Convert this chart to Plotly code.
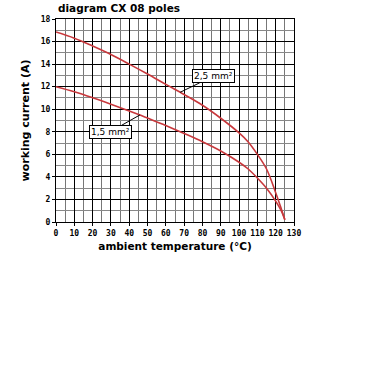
import plotly.graph_objects as go

temps = [0, 10, 20, 30, 40, 50, 60, 70, 80, 90, 100, 105, 110, 115, 120, 123, 125]
current_25 = [16.85, 16.3, 15.6, 14.85, 14.0, 13.12, 12.2, 11.3, 10.35, 9.2, 7.9, 7.1, 6.0, 4.7, 2.6, 1.2, 0.2]
current_15 = [12.0, 11.55, 11.02, 10.45, 9.85, 9.23, 8.55, 7.85, 7.12, 6.3, 5.3, 4.7, 3.9, 3.0, 1.85, 1.0, 0.2]
x_ticks = list(range(0, 131, 10))
y_ticks = list(range(0, 19, 2))
labels = ["2,5 mm²", "1,5 mm²"]
label_pts = [(67.8, 11.5), (45.9, 9.5)]

red = "#c8383c"
tickfont = dict(family="DejaVu Sans Mono", size=8, color="black", weight="bold")

fig = go.Figure()
fig.add_trace(go.Scatter(x=temps, y=current_25, mode="lines", line=dict(color=red, width=1.6, shape="spline"), showlegend=False))
fig.add_trace(go.Scatter(x=temps, y=current_15, mode="lines", line=dict(color=red, width=1.6, shape="spline"), showlegend=False))

offsets = [(33, -16), (-30, 17)]
for txt, (px, py), (ax, ay) in zip(labels, label_pts, offsets):
    fig.add_annotation(x=px, y=py, text=txt, showarrow=True, arrowhead=0, arrowwidth=1,
                       arrowcolor="black", ax=ax, ay=ay, bgcolor="white", bordercolor="black",
                       borderwidth=1, borderpad=1,
                       font=dict(family="DejaVu Sans", size=9, color="black"))

fig.update_layout(
    width=380, height=380,
    margin=dict(l=56, r=86, t=19, b=158),
    paper_bgcolor="white", plot_bgcolor="white",
    title=dict(text="diagram CX 08 poles", x=58/380, xanchor="left", y=1 - 8/380, yanchor="middle",
               font=dict(family="DejaVu Sans", size=10.5, color="black", weight="bold")),
    xaxis=dict(range=[0, 130], tickvals=x_ticks, ticktext=[str(v) for v in x_ticks],
               showgrid=True, gridcolor="black", gridwidth=1,
               minor=dict(dtick=5, showgrid=True, gridcolor="#777", gridwidth=1, ticks=""),
               showline=True, linecolor="black", linewidth=1, mirror=True,
               ticks="outside", ticklen=3, tickcolor="black", tickfont=tickfont, zeroline=False,
               title=dict(text="ambient temperature (°C)", standoff=6,
                          font=dict(family="DejaVu Sans", size=10.5, color="black", weight="bold"))),
    yaxis=dict(range=[0, 18], tickvals=y_ticks, ticktext=[str(v) for v in y_ticks],
               showgrid=True, gridcolor="black", gridwidth=1,
               minor=dict(dtick=1, showgrid=True, gridcolor="#888", gridwidth=1, ticks=""),
               showline=True, linecolor="black", linewidth=1, mirror=True,
               ticks="outside", ticklen=3, tickcolor="black", tickfont=tickfont, zeroline=False,
               title=dict(text="working current (A)", standoff=8,
                          font=dict(family="DejaVu Sans", size=11, color="black", weight="bold"))),
)

fig.write_html("out.html", config={"displayModeBar": False},
               post_script="document.body.style.margin='0';")
